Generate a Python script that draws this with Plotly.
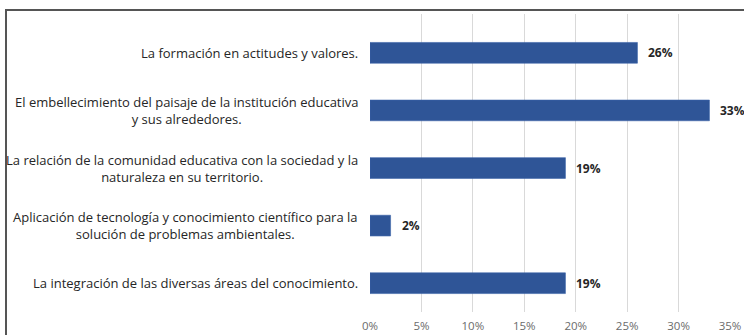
import plotly.graph_objects as go

# Categories listed bottom-to-top as plotted on the y axis
categories = [
    "La integración de las diversas áreas del conocimiento.",
    "Aplicación de tecnología y conocimiento científico para la<br>solución de problemas ambientales.",
    "La relación de la comunidad educativa con la sociedad y la<br>naturaleza en su territorio.",
    "El embellecimiento del paisaje de la institución educativa<br>y sus alrededores.",
    "La formación en actitudes y valores.",
]
values = [19, 2, 19, 33, 26]
tick_vals = [0, 5, 10, 15, 20, 25, 30, 35]
tick_text = ["0%", "5%", "10%", "15%", "20%", "25%", "30%", "35%"]

FONT = "Open Sans"
BAR = "#2F5597"

fig = go.Figure(
    go.Bar(
        x=values,
        y=categories,
        orientation="h",
        marker=dict(color=BAR, line=dict(color="#3A63A8", width=0.6)),
        hoverinfo="skip",
    )
)

annotations = []
# Category labels: block right-aligned against the axis, lines centred within it
for cat in categories:
    annotations.append(dict(
        x=0, y=cat, xref="x", yref="y", text=cat, showarrow=False,
        xanchor="right", yanchor="middle", align="center", xshift=-10,
        font=dict(family=FONT, size=13, color="#262626"),
    ))
# Value labels just past the bar ends
for cat, v in zip(categories, values):
    annotations.append(dict(
        x=v, y=cat, xref="x", yref="y", text=f"<b>{v}%</b>", showarrow=False,
        xanchor="left", yanchor="middle", xshift=9,
        font=dict(family=FONT, size=12, color="#262626"),
    ))

# Chart frame, running past the right and bottom edges of the page
left_px, top_px = 6, 10
plot_l, plot_w, plot_t, plot_b = 370, 360, 14, 312
frame_x0 = (left_px - plot_l) / plot_w
frame_y1 = (plot_b - top_px) / (plot_b - plot_t)

fig.update_layout(
    width=744, height=335,
    margin=dict(l=plot_l, r=744 - plot_l - plot_w, t=plot_t, b=335 - plot_b,
                autoexpand=False),
    paper_bgcolor="white", plot_bgcolor="white",
    showlegend=False,
    bargap=0.64,
    annotations=annotations,
    shapes=[dict(
        type="rect", xref="paper", yref="paper",
        x0=frame_x0, x1=1.3, y0=-0.3, y1=frame_y1,
        line=dict(color="#555555", width=2), layer="below",
    )],
    xaxis=dict(
        range=[0, 35], tickvals=tick_vals, ticktext=tick_text,
        showgrid=True, gridcolor="#D9D9D9", gridwidth=1,
        zeroline=False, showline=False, ticks="", automargin=False,
        tickfont=dict(family=FONT, size=11.5, color="#6B6B6B"),
        ticklabelstandoff=5,
    ),
    yaxis=dict(
        categoryorder="array", categoryarray=categories,
        range=[-0.5, 4.674], showticklabels=False, automargin=False,
        showgrid=False, zeroline=False, showline=False, ticks="",
    ),
)

fig.write_html("out.html")
